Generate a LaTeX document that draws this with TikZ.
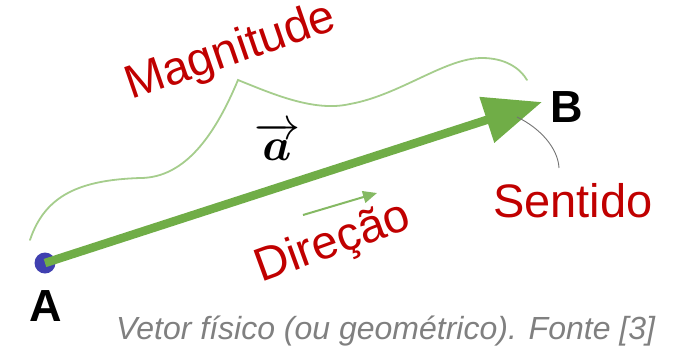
\documentclass[tikz,border=0pt]{standalone}
\usepackage{amsmath,amssymb}
\usepackage{graphicx}
\usepackage{fontspec}
\setmainfont{Liberation Sans}
\usetikzlibrary{arrows.meta}
\definecolor{VecGreen}{RGB}{112,173,71}
\definecolor{LightGreen}{RGB}{165,205,140}
\definecolor{LabelRed}{RGB}{192,0,0}
\definecolor{DotBlue}{RGB}{64,64,176}
\definecolor{CapGrey}{RGB}{128,128,128}

\begin{document}
\begin{tikzpicture}[
  x=1pt, y=-1pt,
  point/.style={circle, fill=DotBlue, inner sep=0pt, minimum size=21pt},
  endlabel/.style={font=\fontsize{45}{50}\selectfont\bfseries, inner sep=0pt},
  redlabel/.style={font=\fontsize{47}{54}\selectfont, text=LabelRed, inner sep=0pt, anchor=base west},
  vector/.style={line width=8.5pt, draw=VecGreen, -{Triangle[length=58pt, width=46pt]}},
  hint/.style={line width=2pt, draw=VecGreen!85, -{Triangle[length=14pt, width=12pt]}},
  brace/.style={line width=1.8pt, draw=LightGreen, line cap=round},
  pointer/.style={line width=0.9pt, draw=black!55}
]
\useasboundingbox (0,0) rectangle (674,349);

% End points
\node[point] (ptA) at (45,263) {};
\coordinate (tipB) at (542,102);
\node[endlabel, anchor=base] (lblA) at (46,321) {A};
\node[endlabel, anchor=base west] (lblB) at (550,122) {B};

% The vector itself
\draw[vector] (ptA.center) -- (tipB);
\node[anchor=base, inner sep=0pt] (lblVec) at (277,160) {\scalebox{4.6}{$\overrightarrow{\boldsymbol{a}}$}};

% Magnitude
\coordinate (magS) at (30,240);
\coordinate (magE) at (527,80);
\draw[brace] (magS) .. controls (45,195) and (80,180) .. (140,178)
  .. controls (185,178) and (215,135) .. (238,80)
  .. controls (275,95) and (315,112) .. (350,104)
  .. controls (400,95) and (445,58) .. (482,58)
  .. controls (505,58) and (520,68) .. (magE);
\node[redlabel, rotate=19] (lblMag) at (131,100) {Magnitude};

% Direction
\coordinate (dirS) at (303,215);
\coordinate (dirE) at (377,193);
\draw[hint] (dirS) -- (dirE);
\node[redlabel, rotate=20] (lblDir) at (261,283) {Direção};

% Sense
\node[redlabel] (lblSent) at (493,217) {Sentido};
\coordinate (senS) at (517,117);
\coordinate (senE) at (559,168);
\draw[pointer] (senS) .. controls (540,128) and (558,148) .. (senE);

% Caption
\node[anchor=base west, inner sep=0pt, text=CapGrey, font=\fontsize{32}{36}\selectfont\itshape] (caption) at (116,339) {Vetor físico (ou geométrico). Fonte [3]};
\end{tikzpicture}
\end{document}
